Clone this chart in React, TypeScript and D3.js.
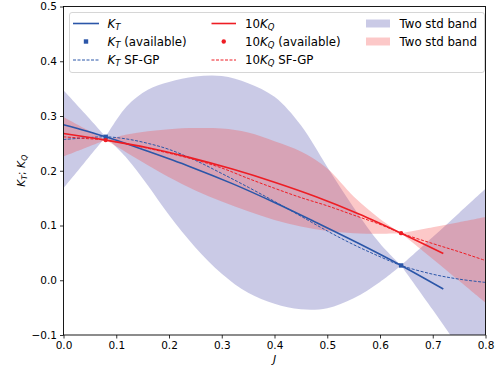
import React, { useEffect, useRef } from "react";
import * as d3 from "d3";

const W = 497;
const H = 369;

// Grid for GP means / two-std bands
const J_GRID = [0, 0.04, 0.08, 0.12, 0.16, 0.2, 0.25, 0.3, 0.35, 0.4, 0.45, 0.5, 0.55, 0.6, 0.64, 0.7, 0.75, 0.8];
const KT_SFGP = [0.257, 0.26, 0.262, 0.258, 0.25, 0.239, 0.219, 0.195, 0.17, 0.144, 0.117, 0.09, 0.065, 0.043, 0.027, 0.011, 0.002, -0.004];
const KT_BAND_UPPER = [0.347, 0.305, 0.262, 0.318, 0.348, 0.362, 0.372, 0.373, 0.36, 0.335, 0.283, 0.207, 0.133, 0.067, 0.027, 0.079, 0.123, 0.167];
const KT_BAND_LOWER = [0.168, 0.215, 0.262, 0.223, 0.173, 0.119, 0.06, 0.012, -0.023, -0.043, -0.053, -0.051, -0.033, -0.003, 0.027, -0.054, -0.123, -0.19];
const KQ_SFGP = [0.262, 0.259, 0.256, 0.249, 0.241, 0.232, 0.22, 0.205, 0.186, 0.168, 0.151, 0.136, 0.119, 0.102, 0.086, 0.067, 0.052, 0.036];
const KQ_BAND_UPPER = [0.298, 0.277, 0.256, 0.266, 0.272, 0.276, 0.278, 0.277, 0.27, 0.254, 0.235, 0.204, 0.153, 0.112, 0.086, 0.097, 0.106, 0.1155];
const KQ_BAND_LOWER = [0.226, 0.241, 0.256, 0.233, 0.21, 0.188, 0.164, 0.144, 0.126, 0.11, 0.098, 0.09, 0.086, 0.085, 0.086, 0.039, -0.001, -0.041];

// Model curves
const J_LINE = [0, 0.08, 0.16, 0.24, 0.32, 0.4, 0.48, 0.56, 0.64, 0.72];
const KT_LINE = [0.284, 0.262, 0.2355, 0.2075, 0.1765, 0.142, 0.105, 0.067, 0.027, -0.016];
const KQ_LINE = [0.268, 0.256, 0.242, 0.224, 0.203, 0.179, 0.152, 0.121, 0.086, 0.049];

// Available points
const J_AVAIL = [0.08, 0.64];
const KT_AVAIL = [0.262, 0.027];
const KQ_AVAIL = [0.256, 0.086];

const X_TICKS = [0, 0.1, 0.2, 0.3, 0.4, 0.5, 0.6, 0.7, 0.8];
const Y_TICKS = [-0.1, 0, 0.1, 0.2, 0.3, 0.4, 0.5];

const BLUE = "#2b56a8";
const RED = "#ee1d24";
const PURPLE_FILL = "#5151ad";
const PINK_FILL = "#f54848";
const FONT = "DejaVu Sans, sans-serif";

const M = { left: 63.5, right: 485.5, top: 6.5, bottom: 335 };

const x = d3.scaleLinear().domain([0, 0.8]).range([M.left, M.right]);
const y = d3.scaleLinear().domain([-0.1, 0.5]).range([M.bottom, M.top]);

type P = { j: number; v: number };
type B = { j: number; lo: number; hi: number };

function zip(js: number[], vs: number[]): P[] {
  return js.map((j, i) => ({ j, v: vs[i] }));
}

function bandSegments(lo: number[], hi: number[]): B[][] {
  const pts: B[] = J_GRID.map((j, i) => ({ j, lo: lo[i], hi: hi[i] }));
  const segs: B[][] = [];
  let cur: B[] = [];
  pts.forEach((p) => {
    cur.push(p);
    if (J_AVAIL.some((a) => Math.abs(a - p.j) < 1e-9)) {
      segs.push(cur);
      cur = [p];
    }
  });
  if (cur.length > 1) segs.push(cur);
  return segs;
}

const lineGen = d3
  .line<P>()
  .x((d) => x(d.j))
  .y((d) => y(d.v))
  .curve(d3.curveCatmullRom.alpha(0.5));

const areaGen = d3
  .area<B>()
  .x((d) => x(d.j))
  .y0((d) => y(d.lo))
  .y1((d) => y(d.hi))
  .curve(d3.curveCatmullRom.alpha(0.5));

function KSub({ sub }: { sub: string }) {
  return (
    <>
      <tspan fontStyle="italic">K</tspan>
      <tspan fontStyle="italic" fontSize="0.72em" dy="0.25em">
        {sub}
      </tspan>
    </>
  );
}

function LegendText({ xPos, yPos, pre, sub, post }: { xPos: number; yPos: number; pre?: string; sub: string; post?: string }) {
  return (
    <text x={xPos} y={yPos} fontSize={11.8} fontFamily={FONT} fill="#000">
      {pre ? <tspan>{pre}</tspan> : null}
      <KSub sub={sub} />
      {post ? <tspan dy="-0.18em">{post}</tspan> : null}
    </text>
  );
}

export default function App() {
  const xAxisRef = useRef<SVGGElement>(null);
  const yAxisRef = useRef<SVGGElement>(null);

  useEffect(() => {
    const fmt = d3.format(".1f");
    if (xAxisRef.current) {
      const g = d3.select(xAxisRef.current);
      g.call(
        d3.axisBottom(x).tickValues(X_TICKS).tickFormat((d) => fmt(d as number)).tickSize(3.5).tickSizeOuter(0).tickPadding(3)
      );
      g.select(".domain").remove();
      g.selectAll("text").attr("font-size", 10.5).attr("font-family", FONT).attr("fill", "#000");
      g.selectAll("line").attr("stroke", "#000").attr("stroke-width", 0.8);
    }
    if (yAxisRef.current) {
      const g = d3.select(yAxisRef.current);
      g.call(
        d3.axisLeft(y).tickValues(Y_TICKS).tickFormat((d) => fmt(d as number)).tickSize(3.5).tickSizeOuter(0).tickPadding(3)
      );
      g.select(".domain").remove();
      g.selectAll("text").attr("font-size", 10.5).attr("font-family", FONT).attr("fill", "#000");
      g.selectAll("line").attr("stroke", "#000").attr("stroke-width", 0.8);
    }
  }, []);

  const ktSegs = bandSegments(KT_BAND_LOWER, KT_BAND_UPPER);
  const kqSegs = bandSegments(KQ_BAND_LOWER, KQ_BAND_UPPER);

  const lg = { x0: 69.5, y0: 12.5, w: 415, h: 60 };
  const rows = [23.5, 41.5, 60];
  const c1 = { h0: 73, h1: 99, t: 107.5 };
  const c2 = { h0: 211.5, h1: 236, t: 245 };
  const c3 = { p0: 366, t: 399.5 };

  return (
    <svg width={W} height={H} style={{ position: "absolute", left: 0, top: 0, background: "#fff" }}>
      <defs>
        <clipPath id="plotclip">
          <rect x={M.left} y={M.top} width={M.right - M.left} height={M.bottom - M.top} />
        </clipPath>
      </defs>
      <rect x={0} y={0} width={W} height={H} fill="#fff" />
      <g clipPath="url(#plotclip)">
        {ktSegs.map((s, i) => (
          <path key={"kt" + i} d={areaGen(s) || ""} fill={PURPLE_FILL} fillOpacity={0.3} stroke="none" />
        ))}
        {kqSegs.map((s, i) => (
          <path key={"kq" + i} d={areaGen(s) || ""} fill={PINK_FILL} fillOpacity={0.3} stroke="none" />
        ))}
        <path d={lineGen(zip(J_LINE, KT_LINE)) || ""} fill="none" stroke={BLUE} strokeWidth={1.6} />
        {J_AVAIL.map((j, i) => (
          <rect key={"ka" + i} x={x(j) - 2.2} y={y(KT_AVAIL[i]) - 2.2} width={4.4} height={4.4} fill={BLUE} />
        ))}
        <path d={lineGen(zip(J_GRID, KT_SFGP)) || ""} fill="none" stroke={BLUE} strokeWidth={1} strokeDasharray="3,1.5" />
        <path d={lineGen(zip(J_LINE, KQ_LINE)) || ""} fill="none" stroke={RED} strokeWidth={1.6} />
        {J_AVAIL.map((j, i) => (
          <circle key={"qa" + i} cx={x(j)} cy={y(KQ_AVAIL[i])} r={2.2} fill={RED} />
        ))}
        <path d={lineGen(zip(J_GRID, KQ_SFGP)) || ""} fill="none" stroke={RED} strokeWidth={1} strokeDasharray="3,1.5" />
      </g>

      <g ref={xAxisRef} transform={`translate(0,${M.bottom})`} />
      <g ref={yAxisRef} transform={`translate(${M.left},0)`} />
      <rect x={M.left} y={M.top} width={M.right - M.left} height={M.bottom - M.top} fill="none" stroke="#000" strokeWidth={0.9} />

      {/* axis labels */}
      <text x={(M.left + M.right) / 2} y={363} textAnchor="middle" fontSize={10.8} fontFamily={FONT} fontStyle="italic">
        J
      </text>
      <text transform={`translate(25,${(M.top + M.bottom) / 2}) rotate(-90)`} textAnchor="middle" fontSize={10.8} fontFamily={FONT}>
        <KSub sub="T" />
        <tspan dy="-0.18em">; </tspan>
        <KSub sub="Q" />
      </text>

      {/* legend */}
      <g>
        <rect x={lg.x0} y={lg.y0} width={lg.w} height={lg.h} rx={2.5} fill="#fff" fillOpacity={0.8} stroke="#cccccc" strokeWidth={0.8} />
        <line x1={c1.h0} x2={c1.h1} y1={rows[0]} y2={rows[0]} stroke={BLUE} strokeWidth={1.6} />
        <rect x={(c1.h0 + c1.h1) / 2 - 2.2} y={rows[1] - 2.2} width={4.4} height={4.4} fill={BLUE} />
        <line x1={c1.h0} x2={c1.h1} y1={rows[2]} y2={rows[2]} stroke={BLUE} strokeWidth={1} strokeDasharray="3,1.5" />
        <LegendText xPos={c1.t} yPos={rows[0] + 4} sub="T" />
        <LegendText xPos={c1.t} yPos={rows[1] + 4} sub="T" post=" (available)" />
        <LegendText xPos={c1.t} yPos={rows[2] + 4} sub="T" post=" SF-GP" />

        <line x1={c2.h0} x2={c2.h1} y1={rows[0]} y2={rows[0]} stroke={RED} strokeWidth={1.6} />
        <circle cx={(c2.h0 + c2.h1) / 2} cy={rows[1]} r={2.2} fill={RED} />
        <line x1={c2.h0} x2={c2.h1} y1={rows[2]} y2={rows[2]} stroke={RED} strokeWidth={1} strokeDasharray="3,1.5" />
        <LegendText xPos={c2.t} yPos={rows[0] + 4} pre="10" sub="Q" />
        <LegendText xPos={c2.t} yPos={rows[1] + 4} pre="10" sub="Q" post=" (available)" />
        <LegendText xPos={c2.t} yPos={rows[2] + 4} pre="10" sub="Q" post=" SF-GP" />

        <rect x={c3.p0} y={rows[0] - 4} width={24} height={8} fill={PURPLE_FILL} fillOpacity={0.3} />
        <rect x={c3.p0} y={rows[1] - 4} width={24} height={8} fill={PINK_FILL} fillOpacity={0.3} />
        <text x={c3.t} y={rows[0] + 4} fontSize={11.8} fontFamily={FONT}>Two std band</text>
        <text x={c3.t} y={rows[1] + 4} fontSize={11.8} fontFamily={FONT}>Two std band</text>
      </g>
    </svg>
  );
}
